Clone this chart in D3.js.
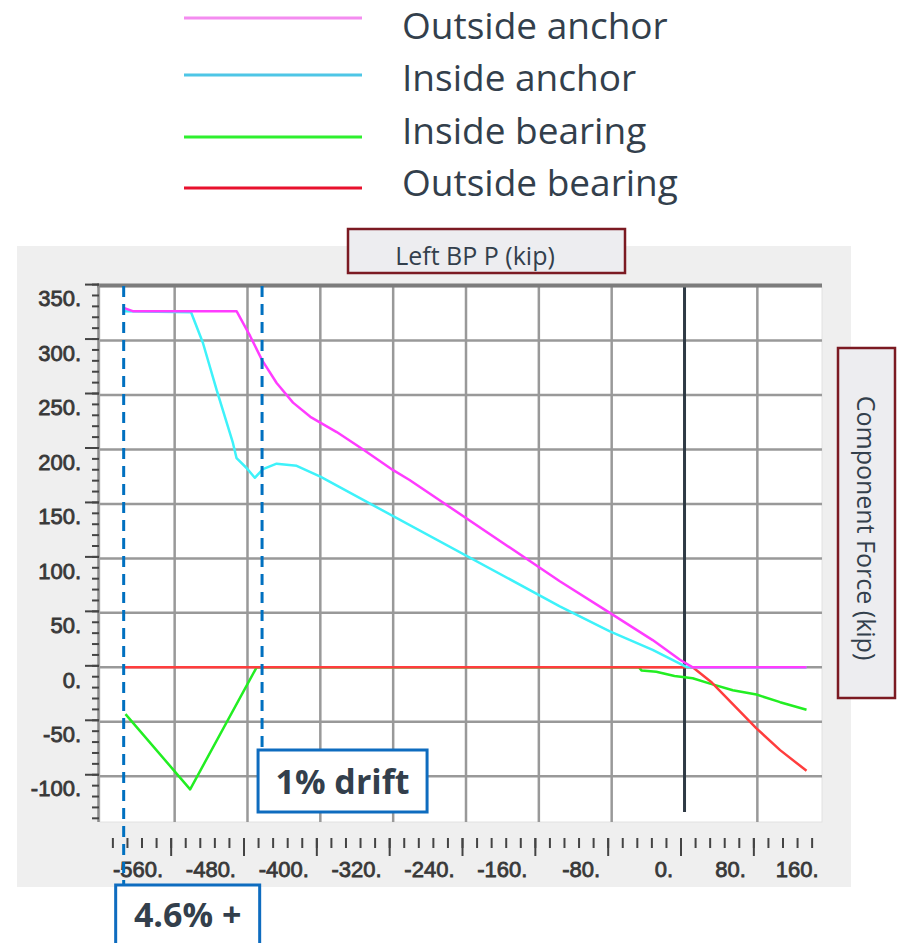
<!DOCTYPE html>
<html>
<head>
<meta charset="utf-8">
<script src="https://cdn.jsdelivr.net/npm/d3@7"></script>
<style>
body { margin: 0; background: #fff; }
</style>
</head>
<body>
<div id="chart"></div>
<script>

//series: x = Left BP P (kip), y = component force (kip)
var outsideAnchorX = [-616, -606, -492, -477, -464, -448, -430, -411, -382, -353, -320, -302, -137, -82, -35, -5, 9, 134];
var outsideAnchorY = [330, 327, 327, 304, 282, 261, 243, 230, 216, 200, 181, 172, 79, 50, 25, 7, 0, 0];

var insideAnchorX = [-616, -542, -529, -514, -496, -492, -481, -472, -463, -448, -426, -400, -137, -82, -35, 3, 8, 134];
var insideAnchorY = [327, 326, 298, 255, 206, 192, 183, 174, 182, 187, 185, 175, 56, 33, 16, 0, 0, 0];

var insideBearingX = [-614, -543, -470, -50, -47, -31, -11, 9, 28, 53, 79, 105, 134];
var insideBearingY = [-43, -112, 0, 0, -3, -4, -8, -10, -15, -21, -25, -32, -39];

var outsideBearingX = [-616, 9, 30, 79, 105, 134];
var outsideBearingY = [0, 0, -14, -56, -76, -95];

//legend
var seriesNames = ["Outside anchor", "Inside anchor", "Inside bearing", "Outside bearing"];
var legendColors = ["#f48cf0", "#4ec6e6", "#2ef02e", "#e8112d"];
var lineColors = ["#ff3cff", "#3ef2fa", "#22ee22", "#ff3d3d"];

//ticks
var xTickLabels = [-560, -480, -400, -320, -240, -160, -80, 0, 80, 160];
var yTickLabels = [-100, -50, 0, 50, 100, 150, 200, 250, 300, 350];

//drift markers (x value) and their labels
var driftX = [-616, -464];
var driftLabels = ["4.6% +", "1% drift"];

var width = 900;
var height = 943;

var svg = d3.select("#chart").append("svg")
    .attr("width", width)
    .attr("height", height);

//plot area (note: "top" is taken by window.top, so plot* names)
var plotLeft = 100, plotRight = 822, plotTop = 287, plotBottom = 822;

var x = d3.scaleLinear()
    .domain([-642, 151])
    .range([plotLeft, plotRight]);

var y = d3.scaleLinear()
    .domain([-142, 351])
    .range([plotBottom, 285]);

//gray panel and white plot
svg.append("rect")
    .attr("x", 17).attr("y", 246)
    .attr("width", 834).attr("height", 641)
    .attr("fill", "#efefef");

svg.append("rect")
    .attr("x", plotLeft).attr("y", plotTop)
    .attr("width", plotRight - plotLeft).attr("height", plotBottom - plotTop)
    .attr("fill", "#fff")
    .attr("stroke", "#e2e2e2")
    .attr("stroke-width", 1);

//grid
var grid = svg.append("g");

grid.selectAll(".hgrid")
    .data(yTickLabels.filter(function(d) { return d < 350; }))
    .enter().append("line")
    .attr("x1", plotLeft).attr("x2", plotRight)
    .attr("y1", function(d) { return y(d); })
    .attr("y2", function(d) { return y(d); })
    .attr("stroke", "#999")
    .attr("stroke-width", 2.5);

grid.selectAll(".vgrid")
    .data(xTickLabels.filter(function(d) { return x(d) < plotRight; }))
    .enter().append("line")
    .attr("x1", function(d) { return x(d); })
    .attr("x2", function(d) { return x(d); })
    .attr("y1", plotTop).attr("y2", function(d) { return d == 0 ? 812 : plotBottom; })
    .attr("stroke", function(d) { return d == 0 ? "#2f3a45" : "#999"; })
    .attr("stroke-width", function(d) { return d == 0 ? 3 : 2.5; });

//top border and left axis line
svg.append("line")
    .attr("x1", 97).attr("x2", plotRight)
    .attr("y1", 285.5).attr("y2", 285.5)
    .attr("stroke", "#7c7c7c")
    .attr("stroke-width", 4);

svg.append("line")
    .attr("x1", 98.5).attr("x2", 98.5)
    .attr("y1", 284).attr("y2", plotBottom)
    .attr("stroke", "#8a8a8a")
    .attr("stroke-width", 2.5);

//y axis ticks: minor every 10, major every 50
var yMinor = svg.append("g")
    .attr("transform", "translate(99,-2)")
    .call(d3.axisLeft(y).tickValues(d3.range(-140, 351, 10)).tickSize(7).tickFormat(""));

var yMajor = svg.append("g")
    .attr("transform", "translate(99,-2)")
    .call(d3.axisLeft(y).tickValues(yTickLabels).tickSize(14).tickPadding(4)
          .tickFormat(function(d) { return d + "."; }));

//x axis ticks: minor every 16, major every 80
var xMinor = svg.append("g")
    .attr("transform", "translate(-4,838)")
    .call(d3.axisTop(x).tickValues(d3.range(-624, 145, 16)).tickSize(-10).tickFormat(""));

var xMajor = svg.append("g")
    .attr("transform", "translate(-4,838)")
    .call(d3.axisTop(x).tickValues(xTickLabels.filter(function(d) { return d < 160; })).tickSize(-18).tickFormat(""));

var xLabels = svg.append("g")
    .attr("transform", "translate(-4,838)")
    .call(d3.axisBottom(x).tickValues(xTickLabels).tickSize(0).tickFormat(function(d) { return d + "."; }));

[yMinor, yMajor, xMinor, xMajor, xLabels].forEach(function(g) {
  g.select(".domain").remove();
  g.selectAll(".tick line").attr("stroke", "#444").attr("stroke-width", 2);
});

yMajor.selectAll("text")
    .attr("x", -18)
    .attr("dy", "0.35em")
    .attr("transform", "translate(0,14)");

xLabels.selectAll("text")
    .attr("text-anchor", "end")
    .attr("x", -8)
    .attr("y", 39)
    .attr("dy", 0);

svg.selectAll(".tick text")
    .attr("font-family", "'Liberation Sans', Arial, sans-serif")
    .attr("font-size", "22px")
    .attr("fill", "#383838")
    .attr("stroke", "#383838")
    .attr("stroke-width", 0.8);

//series lines
var series = [
  {xs: outsideAnchorX, ys: outsideAnchorY, color: lineColors[0]},
  {xs: insideAnchorX, ys: insideAnchorY, color: lineColors[1]},
  {xs: insideBearingX, ys: insideBearingY, color: lineColors[2]},
  {xs: outsideBearingX, ys: outsideBearingY, color: lineColors[3]}
];

var line = d3.line()
    .x(function(d) { return x(d[0]); })
    .y(function(d) { return y(d[1]); });

//draw bearings first, outside anchor on top
[2, 3, 1, 0].forEach(function(i) {
  var s = series[i];
  svg.append("path")
      .datum(d3.zip(s.xs, s.ys))
      .attr("d", line)
      .attr("fill", "none")
      .attr("stroke", s.color)
      .attr("stroke-width", 2.5)
      .attr("stroke-linejoin", "round");
});

//drift markers
var markerBottom = [885, 749];
svg.selectAll(".drift")
    .data(driftX)
    .enter().append("line")
    .attr("x1", function(d) { return x(d); })
    .attr("x2", function(d) { return x(d); })
    .attr("y1", 286)
    .attr("y2", function(d, i) { return markerBottom[i]; })
    .attr("stroke", "#0070c0")
    .attr("stroke-width", 3)
    .attr("stroke-dasharray", "11,7");

//drift label boxes
var boxes = [
  {dx: -8, y: 885, w: 144, h: 70, text: driftLabels[0], base: 927},
  {dx: -4, y: 750, w: 169, h: 62, text: driftLabels[1], base: 794}
];

boxes.forEach(function(b, i) {
  var bx = x(driftX[i]) + b.dx;
  svg.append("rect")
      .attr("x", bx).attr("y", b.y)
      .attr("width", b.w).attr("height", b.h)
      .attr("fill", "#fff")
      .attr("stroke", "#0e6cbf")
      .attr("stroke-width", 3);
  svg.append("text")
      .attr("x", bx + b.w / 2)
      .attr("y", b.base)
      .attr("text-anchor", "middle")
      .attr("font-family", "'Open Sans', sans-serif")
      .attr("font-weight", "bold")
      .attr("font-size", "34px")
      .attr("fill", "#333f4c")
      .text(b.text);
});

//axis title boxes
svg.append("rect")
    .attr("x", 348).attr("y", 229)
    .attr("width", 277).attr("height", 44)
    .attr("fill", "#ededf0")
    .attr("stroke", "#7b1a22")
    .attr("stroke-width", 2.5);

svg.append("text")
    .attr("x", 475).attr("y", 265)
    .attr("text-anchor", "middle")
    .attr("font-family", "'Open Sans', sans-serif")
    .attr("font-size", "25px")
    .attr("fill", "#333f4c")
    .text("Left BP P (kip)");

svg.append("rect")
    .attr("x", 838).attr("y", 348)
    .attr("width", 57).attr("height", 350)
    .attr("fill", "#ededf0")
    .attr("stroke", "#7b1a22")
    .attr("stroke-width", 2.5);

svg.append("text")
    .attr("transform", "translate(857,528) rotate(90)")
    .attr("text-anchor", "middle")
    .attr("font-family", "'Open Sans', sans-serif")
    .attr("font-size", "25px")
    .attr("fill", "#333f4c")
    .text("Component Force (kip)");

//legend
var legendY = [18, 75, 137, 188];
var legendBase = [39, 91, 144, 196];

var legend = svg.append("g");

legend.selectAll("line")
    .data(seriesNames)
    .enter().append("line")
    .attr("x1", 184).attr("x2", 362)
    .attr("y1", function(d, i) { return legendY[i]; })
    .attr("y2", function(d, i) { return legendY[i]; })
    .attr("stroke", function(d, i) { return legendColors[i]; })
    .attr("stroke-width", 3);

legend.selectAll("text")
    .data(seriesNames)
    .enter().append("text")
    .attr("x", 402)
    .attr("y", function(d, i) { return legendBase[i]; })
    .attr("font-family", "'Open Sans', sans-serif")
    .attr("font-size", "37px")
    .attr("fill", "#333f4c")
    .text(function(d) { return d; });

</script>
</body>
</html>
